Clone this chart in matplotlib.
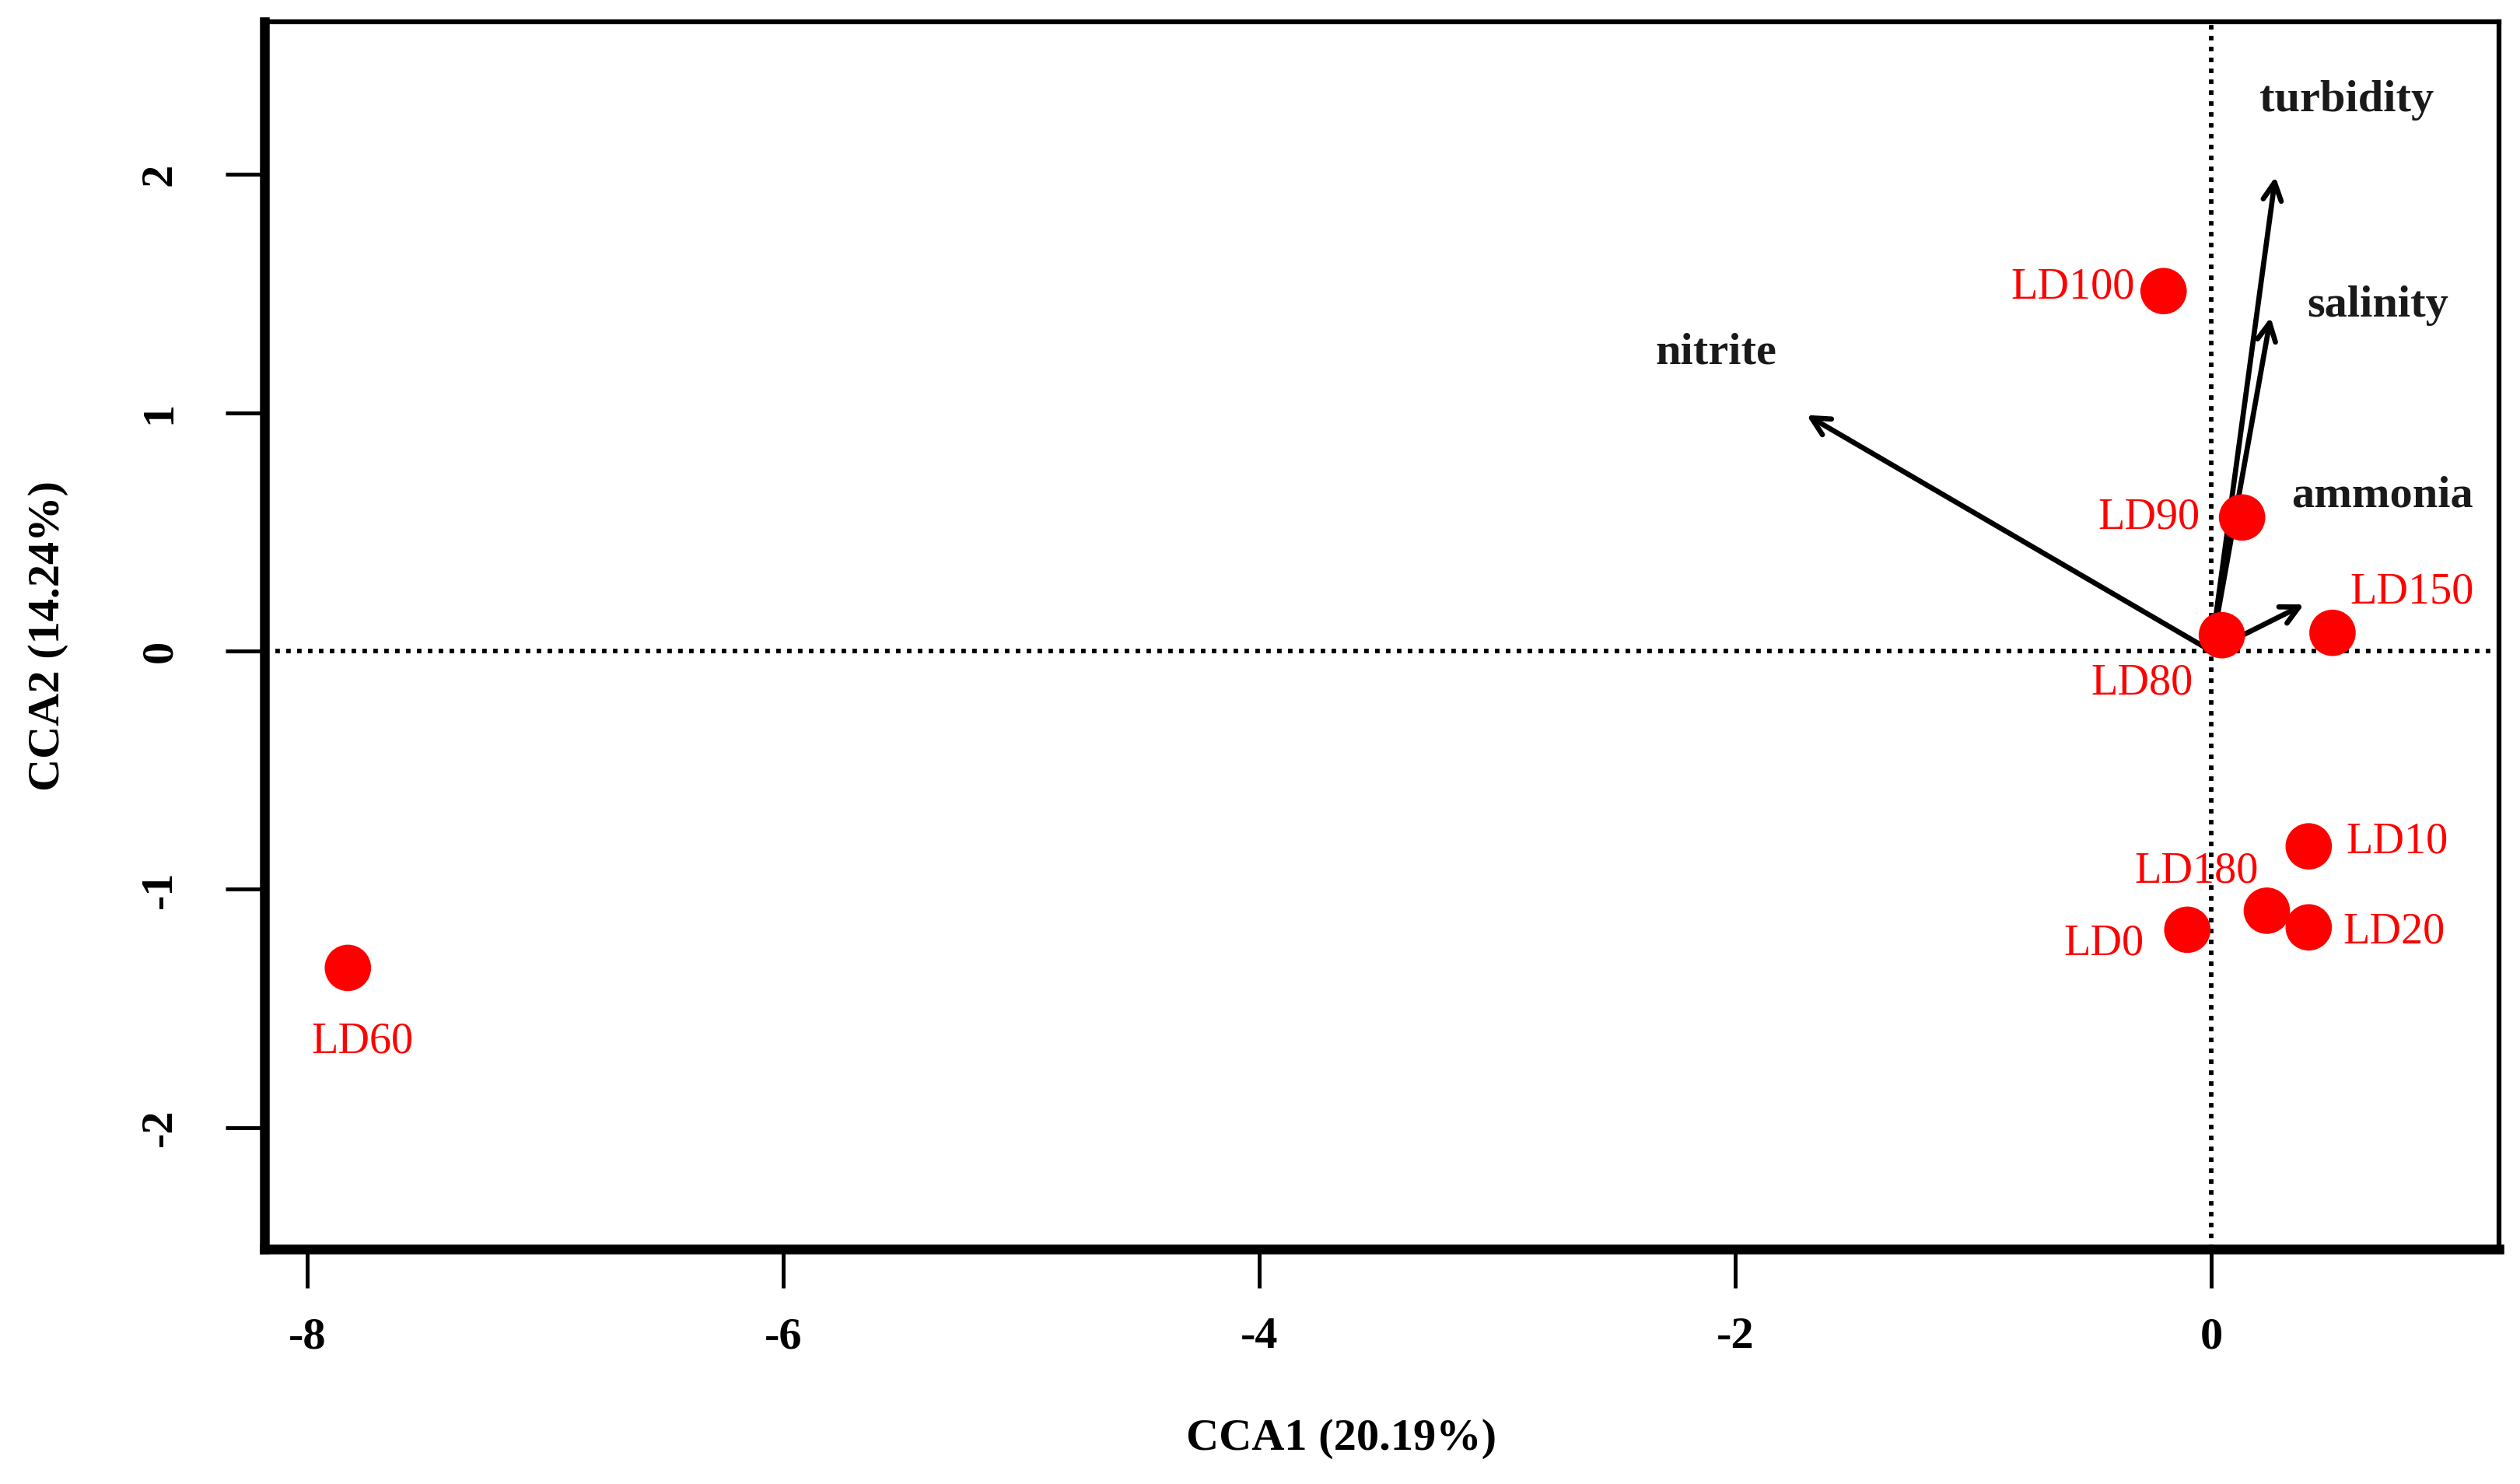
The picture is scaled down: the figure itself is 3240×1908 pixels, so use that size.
import matplotlib
matplotlib.use("Agg")
import matplotlib.pyplot as plt

# Site scores
sites = ["LD100", "LD90", "LD80", "LD150", "LD10", "LD180", "LD20", "LD0", "LD60"]
site_x = [-0.20, 0.13, 0.045, 0.51, 0.41, 0.234, 0.41, -0.10, -7.83]
site_y = [1.51, 0.56, 0.066, 0.076, -0.82, -1.09, -1.16, -1.17, -1.33]
# label positions
site_lx = [-0.58, -0.26, -0.29, 0.845, 0.78, -0.06, 0.77, -0.45, -7.77]
site_ly = [1.525, 0.56, -0.135, 0.245, -0.80, -0.925, -1.18, -1.23, -1.64]

# Environmental vectors
env = ["turbidity", "salinity", "nitrite", "ammonia"]
env_x = [0.27, 0.25, -1.70, 0.39]
env_y = [1.99, 1.40, 0.99, 0.195]
env_lx = [0.57, 0.70, -2.08, 0.72]
env_ly = [2.31, 1.45, 1.25, 0.65]

xticks = [-8, -6, -4, -2, 0]
yticks = [-2, -1, 0, 1, 2]

fig = plt.figure(figsize=(10.8, 6.36), dpi=300)
ax = fig.add_axes([0.105, 0.1583, 0.8867, 0.827])
ax.set_xlim(-8.18, 1.21)
ax.set_ylim(-2.51, 2.64)

serif = "Liberation Serif"

ax.axhline(0, color="black", lw=1.4, ls=(0, (1, 1.4)), zorder=1)
ax.axvline(0, color="black", lw=1.4, ls=(0, (1, 1.4)), zorder=1)

for ex, ey in zip(env_x, env_y):
    ax.annotate("", xy=(ex, ey), xytext=(0, 0),
                arrowprops=dict(arrowstyle="->,head_length=0.55,head_width=0.28",
                                color="black", lw=1.6, shrinkA=0, shrinkB=0),
                zorder=2)
for name, lx, ly in zip(env, env_lx, env_ly):
    ax.text(lx, ly, name, ha="center", va="center", fontsize=14,
            fontweight="bold", family=serif, color="#1a1a1a", zorder=4)

ax.scatter(site_x, site_y, s=205, color="#ff0000", edgecolors="none", zorder=3)
for name, lx, ly in zip(sites, site_lx, site_ly):
    ax.text(lx, ly, name, ha="center", va="center", fontsize=13.5,
            family=serif, color="#ff0000", zorder=4)

ax.set_xticks(xticks)
ax.set_yticks(yticks)
ax.set_xticklabels([str(v) for v in xticks], family=serif, fontweight="bold", fontsize=14)
ax.set_yticklabels([str(v) for v in yticks], family=serif, fontweight="bold", fontsize=14,
                   rotation=90, va="center")
ax.tick_params(axis="x", length=12, width=1.2, pad=9)
ax.tick_params(axis="y", length=12, width=1.2, pad=14)

ax.set_xlabel("CCA1 (20.19%)", family=serif, fontweight="bold", fontsize=14)
ax.set_ylabel("CCA2 (14.24%)", family=serif, fontweight="bold", fontsize=14, labelpad=22)
ax.xaxis.set_label_coords(0.482, -0.138)

ax.spines["left"].set_linewidth(3.0)
ax.spines["bottom"].set_linewidth(3.0)
ax.spines["top"].set_linewidth(1.5)
ax.spines["right"].set_linewidth(1.5)

fig.savefig("out.png", dpi=300, facecolor="white")
